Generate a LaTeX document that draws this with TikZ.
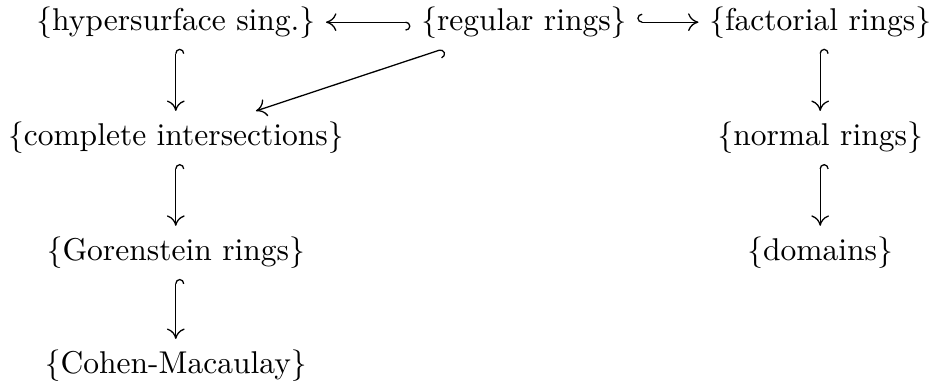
\documentclass[tikz,border=0pt]{standalone}
\usetikzlibrary{arrows.meta}

\begin{document}
\begin{tikzpicture}[
      every node/.style={font=\fontsize{10.3pt}{12.4pt}\selectfont},
      incl/.style={{Hooks[right, width=5.6pt, length=1.6pt]}-{To[length=3.4pt, width=5.8pt]}, line width=0.42pt},
    ]
    \useasboundingbox (0,0) rectangle (10.71,-4.425);

    % Top row
    \node (hyp) at (2.02, -0.255) {\{hypersurface sing.\}};
    \node (reg) at (6.02, -0.255) {\{regular rings\}};
    \node (fac) at (9.425, -0.255) {\{factorial rings\}};

    % Left column
    \node (ci) at (2.02, -1.58) {\{complete intersections\}};
    \node (gor) at (2.02, -2.9) {\{Gorenstein rings\}};
    \node (cm) at (2.02, -4.2) {\{Cohen-Macaulay\}};

    % Right column
    \node (nor) at (9.425, -1.58) {\{normal rings\}};
    \node (dom) at (9.425, -2.9) {\{domains\}};

    % Inclusions
    \draw[incl] (reg) -- (hyp);
    \draw[incl] (reg) -- (fac);
    \draw[incl] (reg) -- (ci);
    \draw[incl] (hyp) -- (ci);
    \draw[incl] (ci) -- (gor);
    \draw[incl] (gor) -- (cm);
    \draw[incl] (fac) -- (nor);
    \draw[incl] (nor) -- (dom);
  \end{tikzpicture}
\end{document}
